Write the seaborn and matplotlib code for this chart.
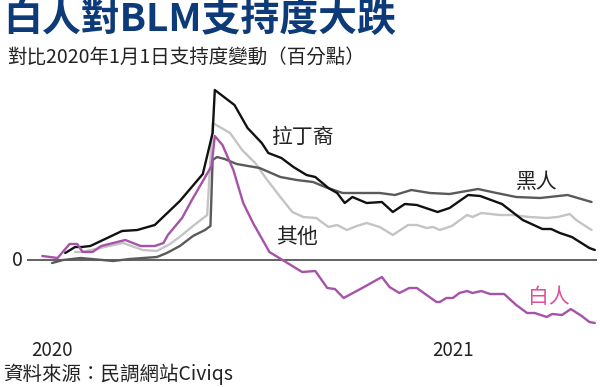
import pandas as pd
import matplotlib
matplotlib.use('Agg')
import matplotlib.pyplot as plt
import seaborn as sns

# values: change in support vs 2020-01-01 (percentage points), x = days since 2020-01-01
white_days = [-9, 5, 16, 23, 28, 37, 45, 67, 81, 94, 102, 106, 119, 128, 137, 146, 149, 156, 166, 175,
              184, 199, 211, 229, 241, 252, 259, 267, 284, 302, 309, 318, 327, 334, 352, 355, 361, 367,
              373, 380, 385, 393, 401, 414, 425, 435, 442, 453, 458, 467, 475, 485, 492, 497]
white_vals = [0.4, 0.2, 1.6, 1.6, 0.8, 0.8, 1.4, 2.0, 1.4, 1.4, 1.7, 2.5, 4.2, 6.0, 7.7, 9.4, 12.4, 11.5, 9.0, 5.7,
              3.7, 0.8, 0.0, -1.2, -1.1, -2.8, -2.9, -3.8, -2.8, -1.7, -2.7, -3.3, -2.8, -2.8, -4.2, -4.2, -3.8, -3.8,
              -3.3, -3.1, -3.3, -3.1, -3.4, -3.4, -4.5, -5.3, -5.3, -5.7, -5.4, -5.5, -4.9, -5.6, -6.2, -6.3]

latino_days = [12, 21, 27, 35, 64, 78, 94, 117, 138, 147, 149, 167, 179, 192, 198, 210, 221, 233, 241, 253,
               261, 268, 275, 288, 302, 312, 323, 334, 353, 364, 381, 392, 412, 431, 449, 457, 465, 476, 492, 497]
latino_vals = [0.7, 1.3, 1.3, 1.4, 2.9, 3.0, 3.5, 5.9, 8.6, 12.7, 17.0, 15.5, 13.2, 11.7, 10.7, 10.2, 9.3, 8.5, 8.3, 7.2,
               6.7, 5.7, 6.3, 5.7, 5.8, 4.8, 5.6, 5.5, 4.8, 5.2, 6.5, 6.4, 5.6, 4.0, 3.1, 3.1, 2.7, 2.3, 1.2, 1.0]

black_days = [0, 10, 26, 56, 71, 96, 105, 117, 129, 140, 145, 147, 151, 158, 169, 190, 209, 224, 239, 250,
              266, 282, 300, 314, 329, 346, 364, 390, 407, 425, 447, 472, 494]
black_vals = [-0.3, 0.0, 0.2, -0.1, 0.1, 0.3, 0.7, 1.4, 2.4, 3.0, 3.4, 10.0, 10.3, 10.1, 9.6, 9.2, 8.3, 8.0, 7.8, 7.3,
              6.7, 6.7, 6.7, 6.5, 7.0, 6.7, 6.6, 7.1, 6.7, 6.3, 6.2, 6.5, 5.8]

other_days = [21, 27, 44, 65, 83, 96, 108, 119, 129, 142, 147, 163, 174, 186, 197, 209, 220, 230, 242, 253,
              261, 270, 279, 288, 300, 312, 326, 334, 343, 349, 355, 366, 380, 385, 393, 410, 422, 437, 453, 463,
              474, 480, 494]
other_vals = [0.8, 0.8, 1.2, 1.7, 1.0, 0.9, 1.6, 2.5, 3.4, 4.5, 13.7, 12.7, 11.0, 9.7, 8.0, 6.3, 4.8, 4.3, 4.2, 3.3,
              3.5, 3.0, 3.4, 3.7, 3.3, 2.5, 3.5, 3.5, 3.2, 3.3, 3.0, 3.4, 4.5, 4.3, 4.7, 4.5, 4.5, 4.3, 4.2, 4.3,
              4.6, 4.0, 3.0]

groups = ['其他', '黑人', '拉丁裔', '白人']
colors = ['#c4c4c4', '#5a5a5a', '#111111', '#a652a8']

start = pd.Timestamp('2020-01-01')
frames = []
for g, d, v in [('其他', other_days, other_vals), ('黑人', black_days, black_vals),
                ('拉丁裔', latino_days, latino_vals), ('白人', white_days, white_vals)]:
    frames.append(pd.DataFrame({'date': start + pd.to_timedelta(d, unit='D'), 'change': v, 'group': g}))
df = pd.concat(frames, ignore_index=True)

sns.set_style('white')
plt.rcParams['font.family'] = ['Noto Sans CJK TC', 'DejaVu Sans']

fig = plt.figure(figsize=(6, 3.87), dpi=100)
ax = fig.add_axes([27/600, 1-330/387, 570/600, 245/387])

ax.axhline(0, color='#555555', lw=1.3, zorder=1)
sns.lineplot(data=df, x='date', y='change', hue='group', hue_order=groups,
             palette=dict(zip(groups, colors)), lw=1.7, legend=False, sort=False, ax=ax, zorder=3)

ax.set_xlim(start + pd.Timedelta(days=-23), start + pd.Timedelta(days=499))
ax.set_ylim(-7.0, 17.5)
ax.set_xticks([]); ax.set_yticks([])
ax.set_xlabel(''); ax.set_ylabel('')
sns.despine(ax=ax, left=True, bottom=True)

# line labels
ax.text(start + pd.Timedelta(days=229), 12.3, '拉丁裔', fontsize=15, color='#222222', ha='center', va='center')
ax.text(start + pd.Timedelta(days=444), 7.8, '黑人', fontsize=15, color='#222222', ha='center', va='center')
ax.text(start + pd.Timedelta(days=224), 2.3, '其他', fontsize=15, color='#222222', ha='center', va='center')
ax.text(start + pd.Timedelta(days=455), -3.7, '白人', fontsize=15, color='#e0509a', ha='center', va='center')

ax.text(start + pd.Timedelta(days=-27), 0, '0', fontsize=14, ha='right', va='center', color='#222222')

fig.text(52/600, 1-350/387, '2020', fontsize=13.5, ha='center', va='center', color='#222222')
fig.text(453/600, 1-350/387, '2021', fontsize=13.5, ha='center', va='center', color='#222222')

fig.text(3/600, 1-19/387, '白人對BLM支持度大跌', fontsize=28, fontweight='bold', color='#0d3a78',
         ha='left', va='center')
fig.text(7/600, 1-57/387, '對比2020年1月1日支持度變動（百分點）', fontsize=14, color='#222222',
         ha='left', va='center')
fig.text(3/600, 1-374/387, '資料來源：民調網站Civiqs', fontsize=14, color='#222222',
         ha='left', va='center')

fig.savefig('out.png', dpi=100)
